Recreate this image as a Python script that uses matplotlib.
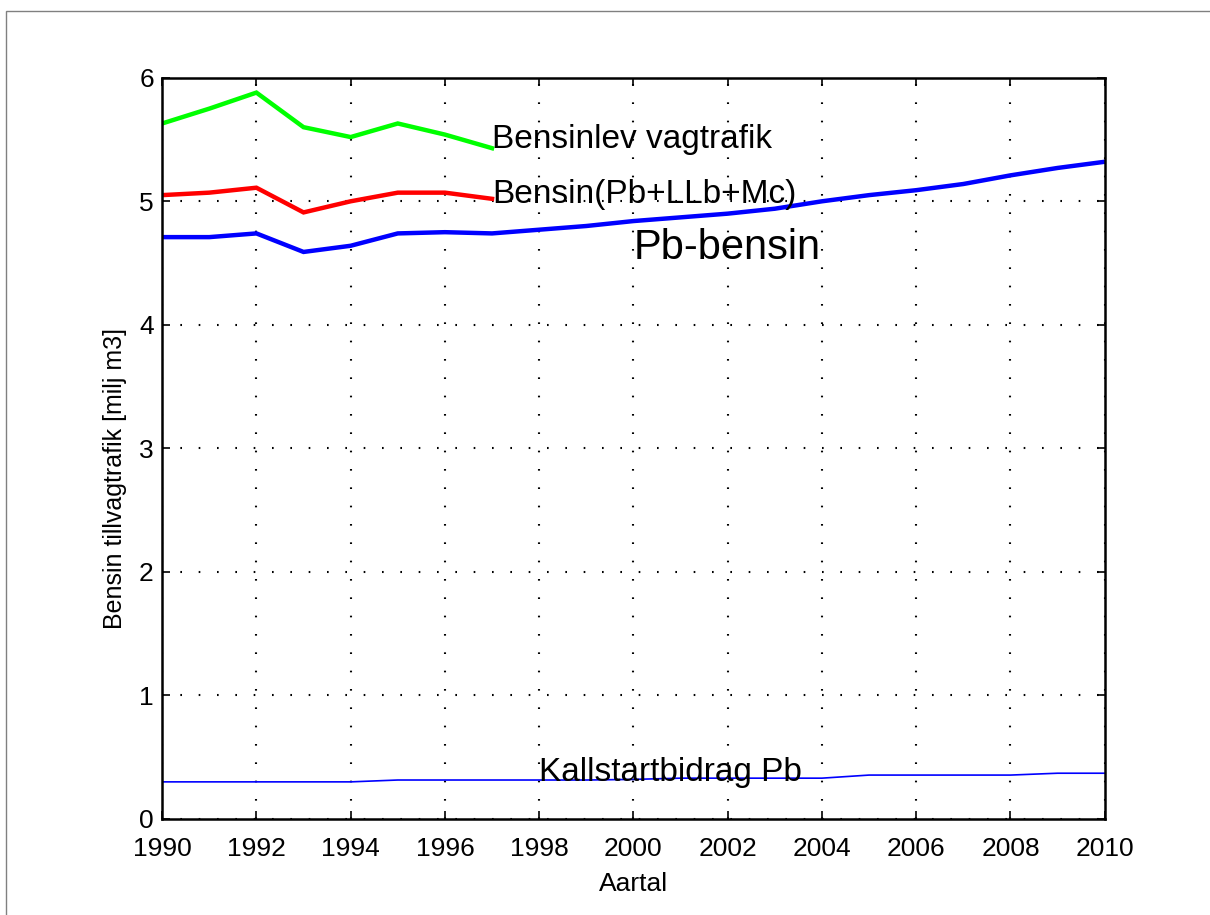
import matplotlib
matplotlib.use('Agg')
import matplotlib.pyplot as plt
import matplotlib.patches as mpatches
import numpy as np

plt.rcParams['font.family'] = ['Liberation Sans', 'DejaVu Sans']

# Gasoline volumes for road traffic, million m3
years = np.arange(1990, 2011)
years_lev = np.arange(1990, 1998)
bensinlev = [5.63, 5.75, 5.88, 5.60, 5.52, 5.63, 5.54, 5.43]
bensin_tot = [5.05, 5.07, 5.11, 4.91, 5.00, 5.07, 5.07, 5.02]
pb_bensin = [4.71, 4.71, 4.74, 4.59, 4.64, 4.74, 4.75, 4.74, 4.77, 4.80, 4.84,
             4.87, 4.90, 4.94, 5.00, 5.05, 5.09, 5.14, 5.21, 5.27, 5.32]
kallstart = [0.30, 0.30, 0.30, 0.30, 0.30, 0.315, 0.315, 0.315, 0.315, 0.315, 0.32,
             0.33, 0.33, 0.33, 0.33, 0.355, 0.355, 0.355, 0.355, 0.37, 0.37]

fig = plt.figure(figsize=(12.1, 9.15), dpi=100, facecolor='white')
# thin grey frame round the figure
fig.patches.append(mpatches.Rectangle((6 / 1210, -0.1), 1.2, 1.1 - 11 / 915,
                                      transform=fig.transFigure, fill=False,
                                      edgecolor='#808080', lw=1.0))
ax = fig.add_axes([0.134, 0.105, 0.779, 0.810])

ax.plot(years_lev, bensinlev, color=(0, 1, 0), lw=3.2, solid_joinstyle='miter')
ax.plot(years_lev, bensin_tot, color=(1, 0, 0), lw=3.2, solid_joinstyle='miter')
ax.plot(years, pb_bensin, color=(0, 0, 1), lw=3.2, solid_joinstyle='miter')
ax.plot(years, kallstart, color=(0, 0, 1), lw=1.2)

ax.text(1997, 5.43, 'Bensinlev vagtrafik', fontsize=24, va='baseline', ha='left')
ax.text(1997, 4.99, 'Bensin(Pb+LLb+Mc)', fontsize=24, va='baseline', ha='left')
ax.text(2000, 4.53, 'Pb-bensin', fontsize=30, va='baseline', ha='left')
ax.text(1998, 0.31, 'Kallstartbidrag Pb', fontsize=24, va='baseline', ha='left')

ax.set_xlim(1990, 2010)
ax.set_ylim(0, 6)
ax.set_xticks(np.arange(1990, 2011, 2))
ax.set_yticks(np.arange(0, 7, 1))
ax.tick_params(direction='in', length=6, width=1.2, labelsize=19,
               top=True, right=True)
ax.tick_params(axis='x', pad=13)
ax.tick_params(axis='y', pad=6)
ax.grid(True, color='black', lw=1.5, linestyle=(0, (0.8, 8)))
for s in ax.spines.values():
    s.set_linewidth(1.8)

ax.set_xlabel('Aartal', fontsize=19, labelpad=8)
ax.set_ylabel('Bensin tillvagtrafik [milj m3]', fontsize=18)
ax.yaxis.set_label_coords(-0.037, 0.459)

fig.savefig('out.png', dpi=100, facecolor='white')
